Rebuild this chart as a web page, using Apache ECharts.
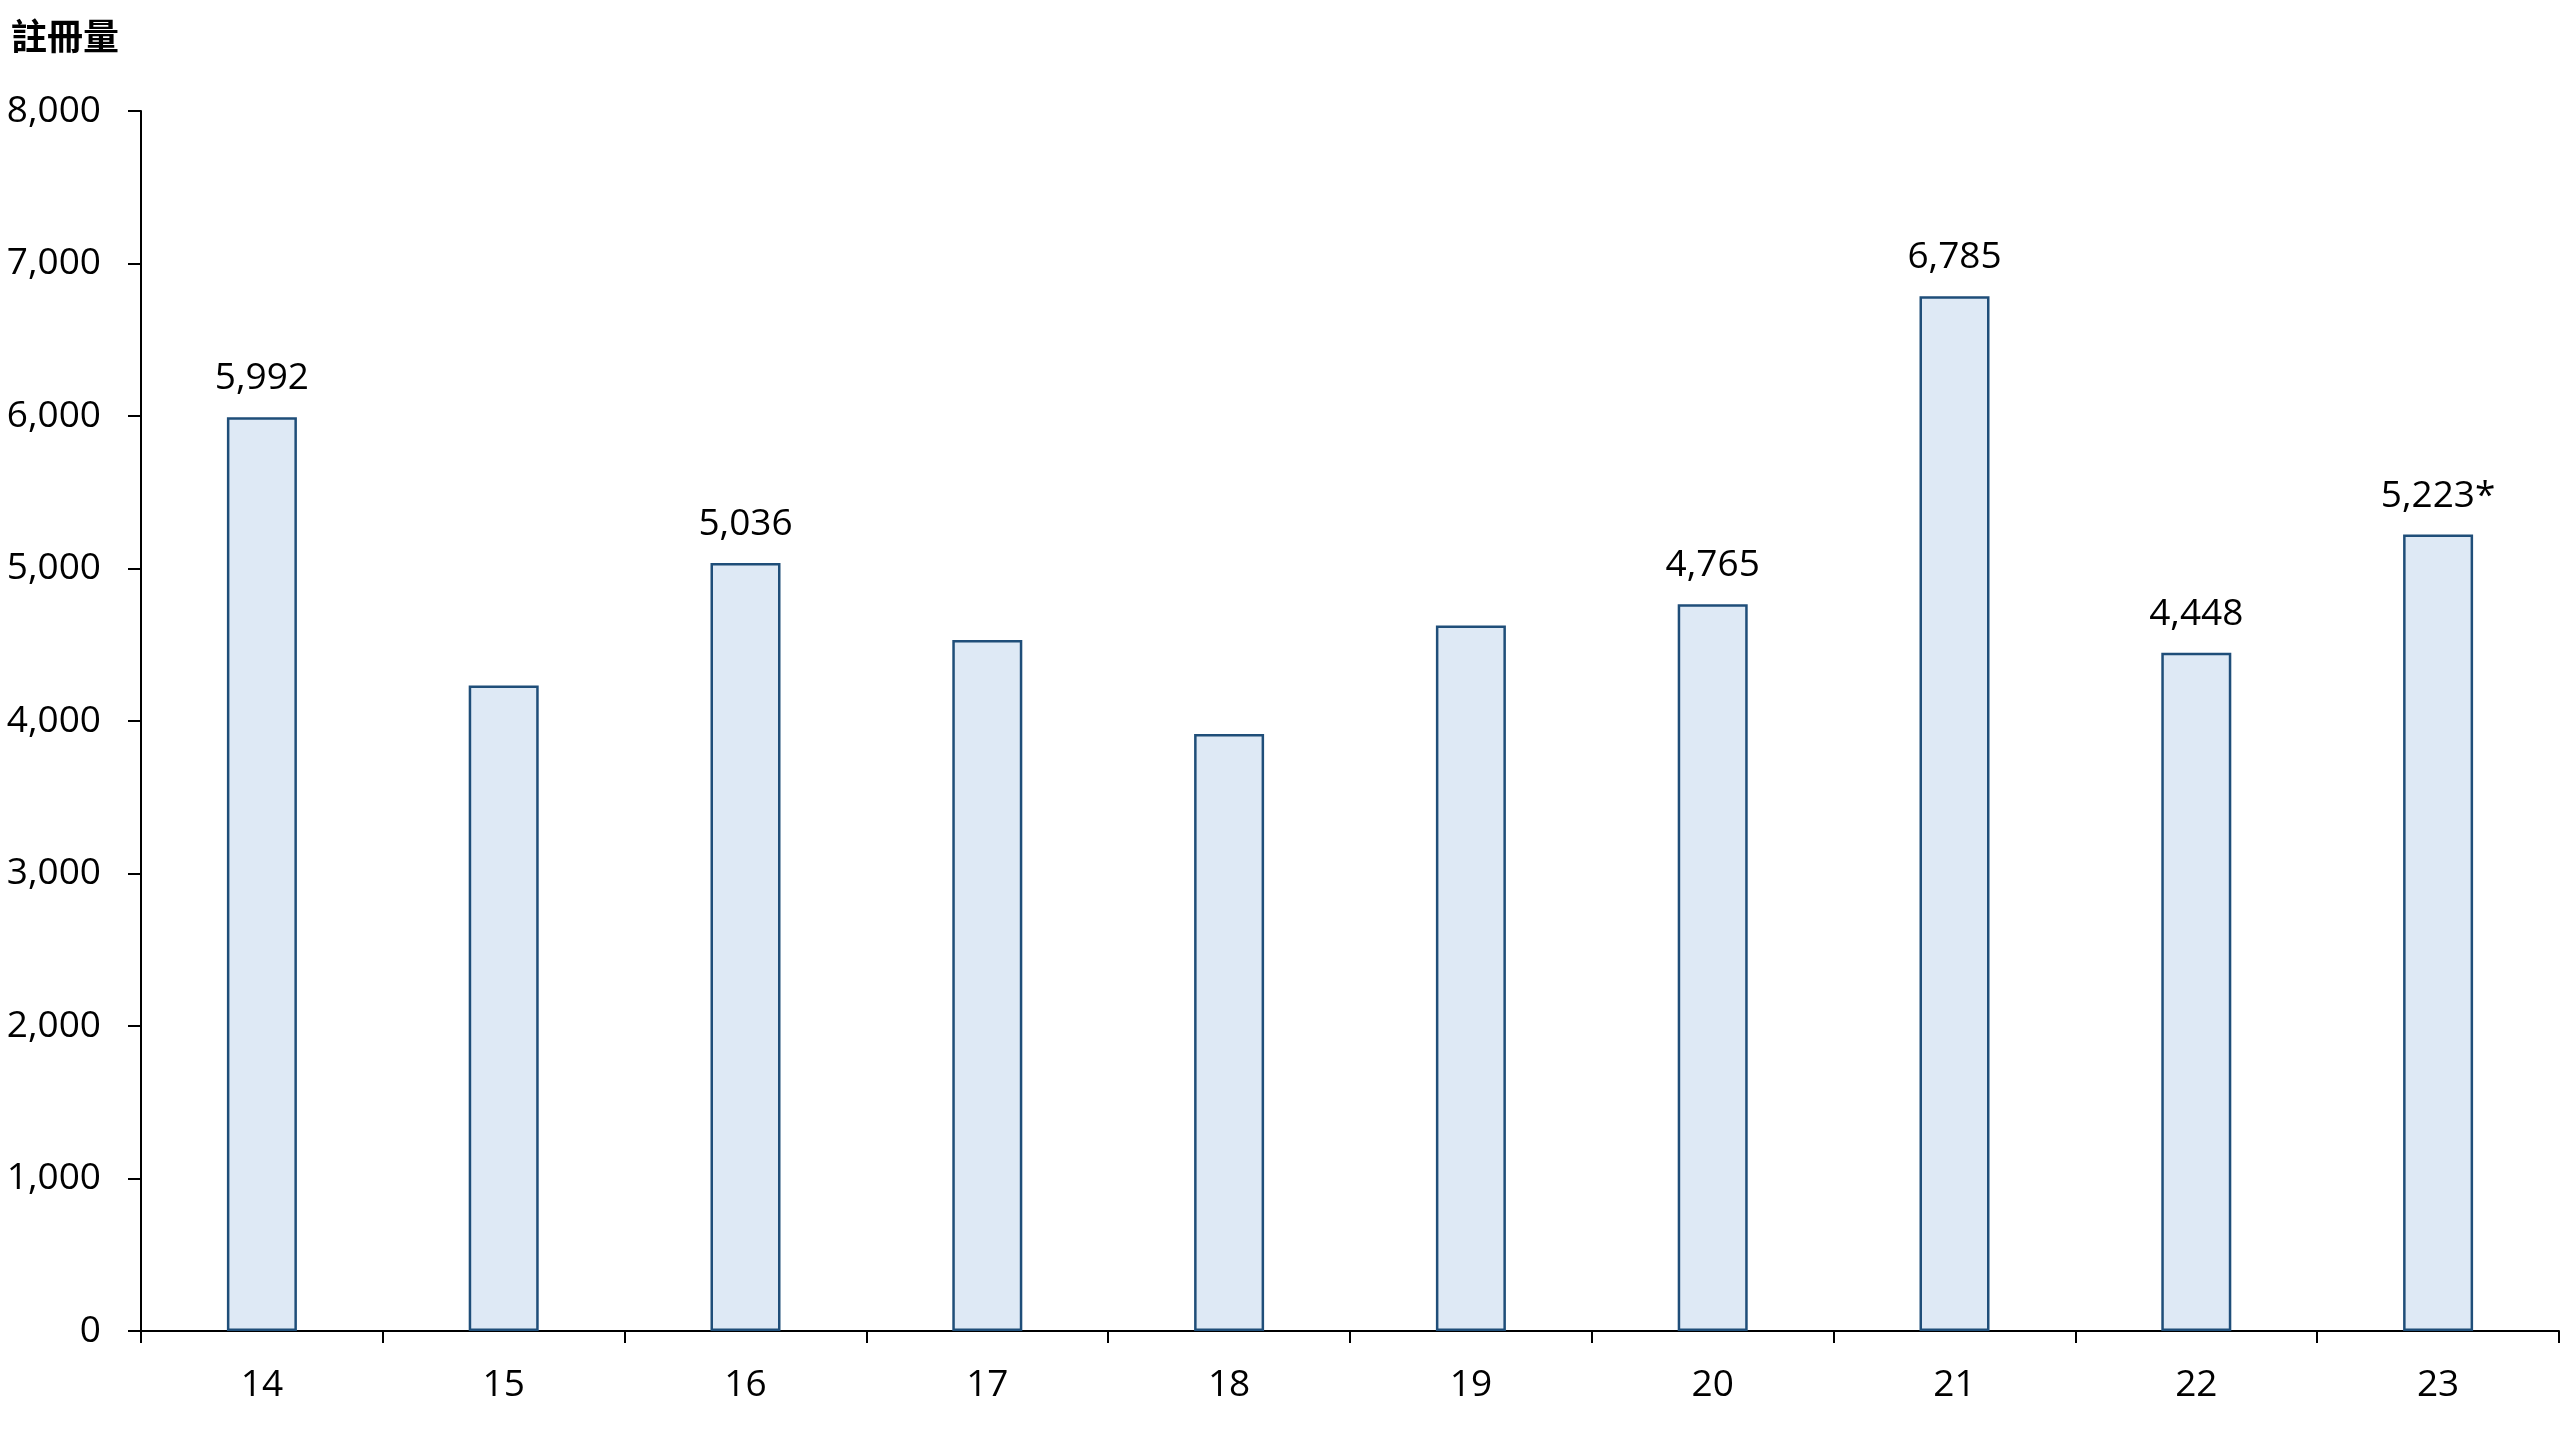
<!DOCTYPE html>
<html>
<head>
<meta charset="utf-8">
<title>註冊量</title>
<script src="https://cdn.jsdelivr.net/npm/echarts@6/dist/echarts.min.js"></script>
<style>
  html, body { margin: 0; padding: 0; background: #fff; }
  #chart { width: 2560px; height: 1440px; }
</style>
</head>
<body>
<div id="chart"></div>
<script>
// 年份（20xx）
const categories = ['14', '15', '16', '17', '18', '19', '20', '21', '22', '23']
// 註冊量
const values = [5992, 4232, 5036, 4531, 3914, 4627, 4765, 6785, 4448, 5223]
// 柱頂標籤，空字串 = 不顯示
const barLabels = ['5,992', '', '5,036', '', '', '', '4,765', '6,785', '4,448', '5,223*']
const yTicks = [0, 1000, 2000, 3000, 4000, 5000, 6000, 7000, 8000]

const fontLatin = '"Open Sans", "Noto Sans", sans-serif'
const chart = echarts.init(document.getElementById('chart'))

const option = {
  animation: false,
  title: {
    text: '註冊量',
    left: 6,
    top: 13,
    textStyle: {
      fontFamily: '"Noto Sans CJK TC", sans-serif',
      fontSize: 36,
      fontWeight: 'bold',
      color: '#000'
    }
  },
  grid: {
    left: 141,
    right: 1,
    top: 111,
    bottom: 109,
    containLabel: false
  },
  xAxis: {
    type: 'category',
    data: categories,
    axisLine: { lineStyle: { color: '#000', width: 2 } },
    axisTick: { show: true, length: 12, lineStyle: { color: '#000', width: 2 } },
    axisLabel: {
      margin: 36,
      fontFamily: fontLatin,
      fontSize: 37,
      color: '#000'
    },
    splitLine: { show: false }
  },
  yAxis: {
    type: 'value',
    min: yTicks[0],
    max: yTicks[yTicks.length - 1],
    interval: 1000,
    axisLine: { show: true, lineStyle: { color: '#000', width: 2 } },
    axisTick: { show: true, length: 13, lineStyle: { color: '#000', width: 2 } },
    axisLabel: {
      margin: 40,
      fontFamily: fontLatin,
      fontSize: 37,
      color: '#000',
      formatter: v => v.toLocaleString('en-US')
    },
    splitLine: { show: false }
  },
  series: [{
    type: 'bar',
    data: values,
    barWidth: 70,
    itemStyle: {
      color: '#DEE9F5',
      borderColor: '#1F4E79',
      borderWidth: 2.5
    },
    label: {
      show: true,
      position: 'top',
      distance: 20,
      fontFamily: fontLatin,
      fontSize: 37,
      lineHeight: 37,
      color: '#000',
      formatter: p => barLabels[p.dataIndex]
    }
  }]
}

chart.setOption(option)
</script>
</body>
</html>
